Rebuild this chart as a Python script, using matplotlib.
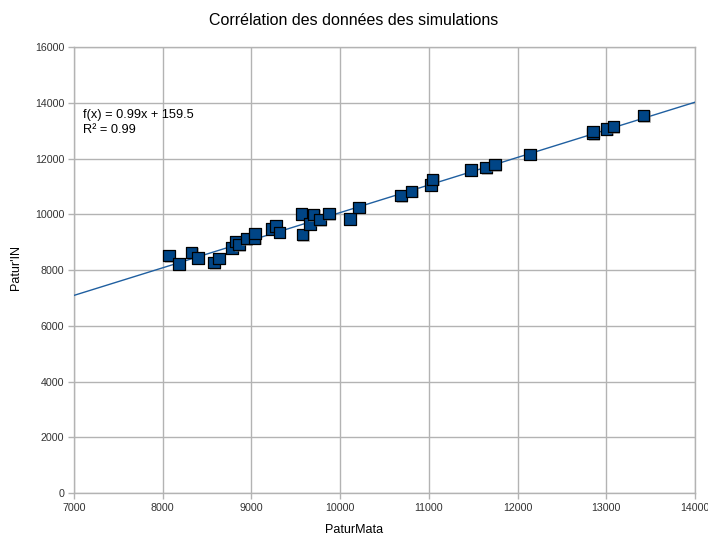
import matplotlib
matplotlib.use("Agg")
import matplotlib.pyplot as plt
import matplotlib.patheffects as pe
import numpy as np

plt.rcParams['font.family'] = ['Liberation Sans', 'DejaVu Sans']

# Simulation outputs: PaturMata (x) vs Patur'IN (y)
patur_mata = [8071, 8184, 8327, 8398, 8578, 8635, 8781, 8826, 8860, 8942,
              9037, 9040, 9232, 9277, 9314, 9562, 9578, 9660, 9702, 9773,
              9875, 10111, 10213, 10686, 10807, 11024, 11044, 11475, 11644,
              11746, 12140, 12851, 12851, 13005, 13079, 13422]
patur_in = [8513, 8215, 8635, 8430, 8262, 8420, 8789, 9030, 8908, 9123,
            9137, 9317, 9471, 9578, 9352, 10009, 9266, 9650, 9984, 9804,
            10020, 9830, 10249, 10665, 10823, 11049, 11254, 11587, 11670,
            11778, 12154, 12890, 12976, 13058, 13141, 13535]

# Linear trend line
slope = 0.99
intercept = 159.5
r_squared = 0.99

x_ticks = list(range(7000, 14001, 1000))
y_ticks = list(range(0, 16001, 2000))

fig = plt.figure(figsize=(7.08, 5.36), dpi=100)
ax = fig.add_axes([0.1045, 0.0802, 0.8771, 0.8321])

ax.set_xlim(7000, 14000)
ax.set_ylim(0, 16000)
ax.set_xticks(x_ticks)
ax.set_yticks(y_ticks)

grid_color = '#b3b3b3'
ax.grid(True, color=grid_color, linewidth=1.0)
ax.set_axisbelow(True)
for s in ax.spines.values():
    s.set_color(grid_color)
    s.set_linewidth(1.0)
ax.tick_params(axis='both', direction='out', length=4, width=1.0,
               color=grid_color, labelsize=7.7, labelcolor='#333333', pad=3)

xs = np.array([7000, 14000])
ax.plot(xs, slope * xs + intercept, color='#1f5fa0', linewidth=1.0, zorder=3)

ax.scatter(patur_mata, patur_in, marker='s', s=66, facecolor='#004586',
           edgecolor='black', linewidth=0.9, zorder=4,
           path_effects=[pe.withSimplePatchShadow(offset=(1, -1),
                                                  shadow_rgbFace='#808080',
                                                  alpha=0.5)])

ax.text(0.0145, 0.86, f"f(x) = {slope}x + {intercept}\nR² = {r_squared}",
        transform=ax.transAxes, fontsize=9.2, color='#000000',
        va='top', ha='left', linespacing=1.3)

fig.text(0.5, 0.962, "Corrélation des données des simulations",
         ha='center', va='center', fontsize=11.5, color='#000000')
fig.text(0.5, 0.0112, "PaturMata", ha='center', va='center',
         fontsize=9, color='#000000')
fig.text(0.0226, 0.5, "Patur'IN", ha='center', va='center',
         rotation=90, fontsize=9, color='#000000')

fig.savefig("out.png", dpi=100)
